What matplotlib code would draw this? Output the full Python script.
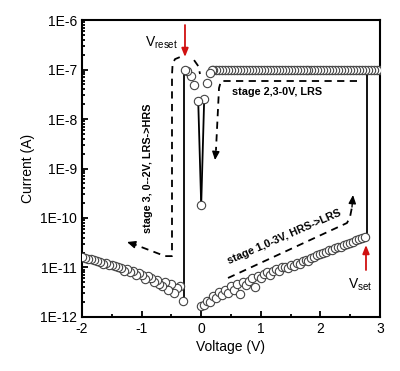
import numpy as np
import matplotlib
matplotlib.use("Agg")
import matplotlib.pyplot as plt
from matplotlib.ticker import FuncFormatter, LogLocator, NullFormatter, MultipleLocator

plt.rcParams['font.family'] = ['Liberation Sans', 'DejaVu Sans']
plt.rcParams['axes.unicode_minus'] = False

# ---- data (log10 of current) ----
# Stage 1: 0 -> 2.75 V, HRS
v_stage1 = [0.00, 0.05, 0.10, 0.15, 0.20, 0.25, 0.30, 0.35, 0.40, 0.45,
            0.50, 0.55, 0.60, 0.65, 0.70, 0.75, 0.80, 0.85, 0.90, 0.95,
            1.00, 1.05, 1.10, 1.15, 1.20, 1.25, 1.30, 1.35, 1.40, 1.45,
            1.50, 1.55, 1.60, 1.65, 1.70, 1.75, 1.80, 1.85, 1.90, 1.95,
            2.00, 2.05, 2.10, 2.15, 2.20, 2.25, 2.30, 2.35, 2.40, 2.45,
            2.50, 2.55, 2.60, 2.65, 2.70, 2.75]
logi_stage1 = [-11.78, -11.75, -11.67, -11.70, -11.58, -11.62, -11.50, -11.56, -11.45, -11.52,
               -11.38, -11.45, -11.34, -11.54, -11.30, -11.36, -11.28, -11.22, -11.40, -11.18,
               -11.22, -11.14, -11.10, -11.15, -11.08, -11.04, -11.07, -11.00, -10.98, -11.02,
               -10.94, -10.96, -10.90, -10.92, -10.86, -10.84, -10.87, -10.80, -10.78, -10.75,
               -10.72, -10.70, -10.69, -10.64, -10.65, -10.60, -10.58, -10.59, -10.54, -10.52,
               -10.50, -10.48, -10.45, -10.43, -10.41, -10.38]

# Stage 2: LRS plateau 3 -> ~0.15 V, then dip near 0 V
v_stage2 = [3.00, 2.95, 2.90, 2.85, 2.80, 2.75, 2.70, 2.65, 2.60, 2.55,
            2.50, 2.45, 2.40, 2.35, 2.30, 2.25, 2.20, 2.15, 2.10, 2.05,
            2.00, 1.95, 1.90, 1.85, 1.80, 1.75, 1.70, 1.65, 1.60, 1.55,
            1.50, 1.45, 1.40, 1.35, 1.30, 1.25, 1.20, 1.15, 1.10, 1.05,
            1.00, 0.95, 0.90, 0.85, 0.80, 0.75, 0.70, 0.65, 0.60, 0.55,
            0.50, 0.45, 0.40, 0.35, 0.30, 0.25, 0.20, 0.18,
            0.15, 0.10, 0.05, 0.00]
logi_stage2 = [-7.0] * 58 + [-7.07, -7.27, -7.60, -9.74]

# Stage 3: 0 -> -0.29 V LRS, reset, then HRS to -2 V
v_stage3_lrs = [-0.05, -0.12, -0.17, -0.23, -0.27]
logi_stage3_lrs = [-7.64, -7.31, -7.13, -7.02, -7.00]
v_reset = -0.29
v_stage3_hrs = [-0.30, -0.35, -0.40, -0.45, -0.50, -0.55, -0.60, -0.65, -0.70, -0.75,
                -0.80, -0.85, -0.90, -0.95, -1.00, -1.05, -1.10, -1.15, -1.20, -1.25,
                -1.30, -1.35, -1.40, -1.45, -1.50, -1.55, -1.60, -1.65, -1.70, -1.75,
                -1.80, -1.85, -1.90, -1.95, -2.00]
logi_stage3_hrs = [-11.68, -11.38, -11.42, -11.52, -11.34, -11.45, -11.30, -11.38, -11.34, -11.25,
                   -11.30, -11.22, -11.18, -11.24, -11.15, -11.12, -11.16, -11.08, -11.10, -11.04,
                   -11.07, -11.02, -11.00, -10.97, -10.95, -10.94, -10.90, -10.92, -10.88, -10.86,
                   -10.84, -10.83, -10.82, -10.80, -10.79]
v_set = 2.78

# dashed guide paths (V, log10 I)
p3_v = [-0.12, -0.05, -0.02]
p3_l = [-6.81, -6.93, -7.09]
p3b_v = [-0.36, -0.44, -0.48, -0.49, -0.49, -0.607, -1.14]
p3b_l = [-6.75, -6.79, -6.89, -7.11, -10.77, -10.77, -10.525]
p3_tip = (-1.245, -10.485)
p2_v = [2.614, 0.332, 0.299, 0.248]
p2_l = [-7.232, -7.232, -7.374, -8.626]
p2_tip = (0.232, -8.83)
p1_v = [0.45, 2.446, 2.497, 2.53]
p1_l = [-11.212, -10.101, -9.98, -9.778]
p1_tip = (2.547, -9.535)

fig = plt.figure(figsize=(4.0, 3.71), dpi=100)
ax = fig.add_axes([0.205, 0.1456, 0.745, 0.8004])
ax.set_yscale('log')
ax.set_xlim(-2, 3)
ax.set_ylim(1e-12, 1e-6)

P = lambda a: 10.0 ** np.asarray(a)

line_kw = dict(color='black', lw=1.3, zorder=2)
# set jump
ax.plot([v_set, v_set], P([logi_stage1[-1], logi_stage2[0]]), **line_kw)
# dip lines near 0 V
ax.plot([v_stage2[-2], v_stage2[-1]], P([logi_stage2[-2], logi_stage2[-1]]), **line_kw)
ax.plot([v_stage2[-1], v_stage3_lrs[0]], P([logi_stage2[-1], logi_stage3_lrs[0]]), **line_kw)
# reset drop
ax.plot([v_reset, v_reset], P([logi_stage3_lrs[-1], logi_stage3_hrs[0]]), **line_kw)

mk = dict(marker='o', ls='none', ms=6, mfc='white', mec='#444444', mew=0.8, zorder=3)
ax.plot(v_stage1, P(logi_stage1), **mk)
ax.plot(v_stage2, P(logi_stage2), **mk)
ax.plot(v_stage3_lrs, P(logi_stage3_lrs), **mk)
ax.plot(v_stage3_hrs, P(logi_stage3_hrs), **mk)

dash = dict(color='black', lw=1.3, ls=(0, (4, 3)), zorder=1)
ax.plot(p3_v, P(p3_l), **dash)
ax.plot(p3b_v, P(p3b_l), **dash)
ax.plot(p2_v, P(p2_l), **dash)
ax.plot(p1_v, P(p1_l), **dash)

def head(tip, frm):
    ax.annotate('', xy=(tip[0], 10 ** tip[1]), xytext=(frm[0], 10 ** frm[1]),
                arrowprops=dict(arrowstyle='-|>,head_length=0.5,head_width=0.22',
                                color='black', lw=1.0, shrinkA=0, shrinkB=0))

head(p3_tip, (p3b_v[-1], p3b_l[-1]))
head(p2_tip, (p2_v[-1], p2_l[-1]))
head(p1_tip, (p1_v[-1], p1_l[-1]))

# red arrows
red = dict(arrowstyle='-|>,head_length=0.5,head_width=0.2', color='#d01010', lw=1.3,
           shrinkA=0, shrinkB=0)
ax.annotate('', xy=(-0.272, 10 ** -6.747), xytext=(-0.272, 10 ** -6.101), arrowprops=red)
ax.annotate('', xy=(2.765, 10 ** -10.545), xytext=(2.765, 10 ** -11.051), arrowprops=red)

# texts
ax.text(-0.389, 10 ** -6.465, r'V$_{\mathregular{reset}}$', ha='right', va='center', fontsize=10)
ax.text(2.664, 10 ** -11.354, r'V$_{\mathregular{set}}$', ha='center', va='center', fontsize=10)
ax.text(0.517, 10 ** -7.455, 'stage 2,3-0V, LRS', ha='left', va='center',
        fontsize=7.8, fontweight='bold')
ax.text(-0.893, 10 ** -8.99, 'stage 3, 0--2V, LRS->HRS', ha='center', va='center',
        fontsize=7.8, fontweight='bold', rotation=90)
ax.text(1.389, 10 ** -10.39, 'stage 1,0-3V, HRS->LRS', ha='center', va='center',
        fontsize=7.8, fontweight='bold', rotation=23.5, rotation_mode='anchor')

# axes styling
for s in ax.spines.values():
    s.set_linewidth(1.5)
ax.xaxis.set_major_locator(MultipleLocator(1))
ax.xaxis.set_minor_locator(MultipleLocator(0.5))
ax.yaxis.set_major_locator(LogLocator(base=10, numticks=10))
ax.yaxis.set_minor_locator(LogLocator(base=10, subs=np.arange(2, 10), numticks=20))
ax.yaxis.set_minor_formatter(NullFormatter())
ax.yaxis.set_major_formatter(FuncFormatter(lambda y, p: '1E%d' % int(round(np.log10(y)))))
ax.tick_params(which='both', direction='in', top=False, right=False, labelsize=10, width=1.3)
ax.tick_params(which='major', length=4)
ax.tick_params(which='minor', length=2.5)
ax.set_xlabel('Voltage (V)', fontsize=10, labelpad=3)
ax.set_ylabel('Current (A)', fontsize=10, labelpad=4)

fig.savefig('out.png', dpi=100)
